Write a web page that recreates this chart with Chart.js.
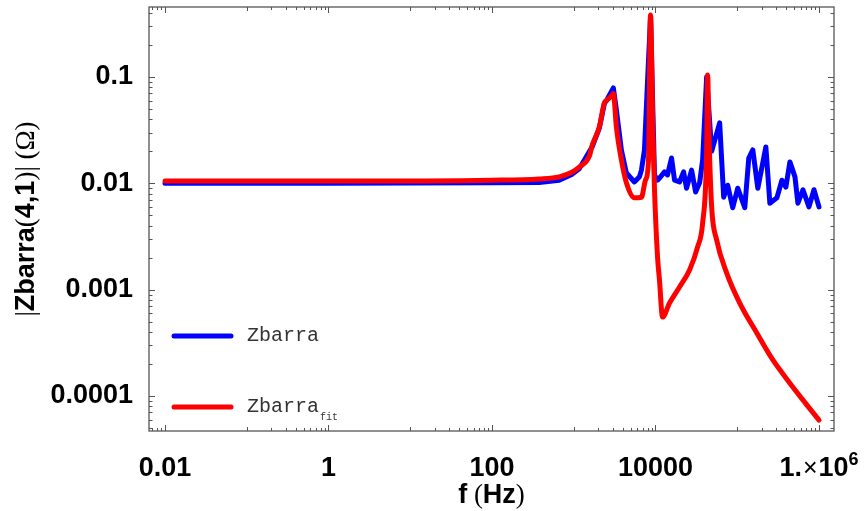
<!DOCTYPE html>
<html>
<head>
<meta charset="utf-8">
<script src="https://cdn.jsdelivr.net/npm/chart.js@4"></script>
<style>
  html, body { margin: 0; padding: 0; background: #fff; }
  #wrap { width: 868px; height: 511px; }
</style>
</head>
<body>
<div id="wrap"><canvas id="c" width="868" height="511"></canvas></div>
<script>
// Measured impedance magnitude |Zbarra(4,1)| versus frequency
const freqMeasured = [0.01, 1, 100, 377, 664, 959, 1167, 1687, 2055, 2366, 2577, 3053, 3322, 3826, 4406,
  5524, 6364, 6730, 7328, 7977, 8689, 9724, 10590, 11200, 12890, 14030, 15710, 17100, 19690, 22070,
  23990, 27650, 30960, 34660, 37730, 42230, 48640, 60950, 68230, 76400, 88050, 101400, 123600, 138400,
  155000, 178500, 223900, 250600, 305500, 351800, 393800, 440600, 508100, 552300, 636400, 753500, 868200, 1e6];
const zMeasured = [0.0100, 0.0100, 0.0101, 0.0102, 0.0107, 0.0122, 0.0137, 0.0222, 0.0330, 0.0560, 0.0620,
  0.0788, 0.0490, 0.0206, 0.0125, 0.0103, 0.0115, 0.0133, 0.0206, 0.088, 0.366, 0.0120, 0.0107, 0.0112,
  0.0128, 0.0120, 0.0173, 0.0107, 0.0103, 0.0128, 0.0090, 0.0133, 0.0083, 0.0101, 0.0166, 0.100, 0.020,
  0.037, 0.0074, 0.0096, 0.0059, 0.0090, 0.0059, 0.0173, 0.0206, 0.0090, 0.0220, 0.0065, 0.0073, 0.0107,
  0.0092, 0.0159, 0.0115, 0.0065, 0.0087, 0.0060, 0.0087, 0.0060];

// Fitted model
const freqFit = [0.01, 1, 100, 377, 664, 959, 1167, 1549, 1687, 2055, 2366, 2577, 2967, 3053, 3322, 3826,
  4406, 5524, 6730, 7535, 8200, 8689, 9300, 9724, 10590, 11200, 12190, 14850, 19690, 26120, 32750, 37730,
  42230, 43450, 45000, 48640, 55990, 74300, 107300, 173500, 272900, 440600, 712900, 1e6];
const zFit = [0.0105, 0.0105, 0.0107, 0.0110, 0.0115, 0.0128, 0.0142, 0.0180, 0.0229, 0.0339, 0.0569,
  0.0610, 0.0680, 0.0700, 0.0339, 0.0166, 0.0101, 0.0073, 0.0074, 0.0107, 0.016, 0.383, 0.030, 0.0087,
  0.00204, 0.00122, 0.000552, 0.000748, 0.00106, 0.00153, 0.00252, 0.00423, 0.0200, 0.1045, 0.030, 0.0060,
  0.00293, 0.00143, 0.000748, 0.000391, 0.000218, 0.000132, 0.0000821, 0.0000593];

const xTickValues = [0.01, 1, 100, 10000, 1e6];
const xTickLabels = ['0.01', '1', '100', '10000', '1.×10^6'];
const yTickValues = [0.0001, 0.001, 0.01, 0.1];
const yTickLabels = ['0.0001', '0.001', '0.01', '0.1'];

const seriesNames = ['Zbarra', 'Zbarra'];
const seriesSubscripts = ['', 'fit'];
const seriesColors = ['#0000ff', '#ff0000'];

const BOLD = 'bold 27px "Liberation Sans", Arial, sans-serif';
const SERIF = '27px "Liberation Serif", "Times New Roman", serif';

function toPoints(xs, ys) { return xs.map((x, i) => ({ x: x, y: ys[i] })); }

// Draws a run of differently styled text pieces starting at (x, y)
function drawRuns(ctx, runs, x, y) {
  let cx = x;
  for (const r of runs) {
    ctx.font = r.font;
    ctx.fillText(r.text, cx, y + (r.dy || 0));
    cx += ctx.measureText(r.text).width + (r.gap || 0);
  }
  return cx;
}
function runsWidth(ctx, runs) {
  let w = 0;
  for (const r of runs) { ctx.font = r.font; w += ctx.measureText(r.text).width + (r.gap || 0); }
  return w;
}

const framePlugin = {
  id: 'frameTicks',
  beforeDatasetsDraw(chart) {
    const { ctx, chartArea: a, scales } = chart;
    const xs = scales.x, ys = scales.y;
    ctx.save();
    ctx.strokeStyle = '#555';
    ctx.lineWidth = 1;
    ctx.beginPath();
    // x ticks: major every other decade, minor k*10^n in the decades between
    for (let n = -3; n <= 7; n++) {
      for (let k = 1; k <= 9; k++) {
        const v = k * Math.pow(10, n);
        if (v < xs.min || v > xs.max) continue;
        const even = (n % 2 === 0);
        let len;
        if (even) { if (k !== 1) continue; len = 6; }
        else len = (k === 1) ? 4 : 3;
        const px = Math.round(xs.getPixelForValue(v)) + 0.5;
        ctx.moveTo(px, a.bottom); ctx.lineTo(px, a.bottom - len);
        ctx.moveTo(px, a.top); ctx.lineTo(px, a.top + len);
      }
    }
    // y ticks: every decade with minors 2..9
    for (let n = -6; n <= 1; n++) {
      for (let k = 1; k <= 9; k++) {
        const v = k * Math.pow(10, n);
        if (v < ys.min || v > ys.max) continue;
        const len = (k === 1) ? 6 : 3.5;
        const py = Math.round(ys.getPixelForValue(v)) + 0.5;
        ctx.moveTo(a.left, py); ctx.lineTo(a.left + len, py);
        ctx.moveTo(a.right, py); ctx.lineTo(a.right - len, py);
      }
    }
    ctx.stroke();
    ctx.lineWidth = 1.3;
    ctx.strokeRect(a.left, a.top, a.right - a.left, a.bottom - a.top);
    ctx.restore();
  },
  afterDraw(chart) {
    const { ctx, chartArea: a, scales } = chart;
    const xs = scales.x;
    ctx.save();
    ctx.fillStyle = '#000';
    ctx.textBaseline = 'alphabetic';

    // x tick labels
    const base = 476;
    xTickValues.forEach((v, i) => {
      const px = xs.getPixelForValue(v);
      const lbl = xTickLabels[i];
      let runs;
      if (lbl.indexOf('^') >= 0) {
        const [mant, exp] = lbl.split('^');
        const parts = mant.split('×');
        runs = [
          { text: parts[0], font: BOLD, gap: 1 },
          { text: '×', font: '25px "Liberation Sans", Arial, sans-serif', gap: 1 },
          { text: parts[1], font: BOLD },
          { text: exp, font: 'bold 18px "Liberation Sans", Arial, sans-serif', dy: -11 }
        ];
      } else {
        runs = [{ text: lbl, font: BOLD }];
      }
      ctx.textAlign = 'left';
      const w = runsWidth(ctx, runs);
      drawRuns(ctx, runs, px - w / 2, base);
    });

    // x axis title
    const xt = [
      { text: 'f', font: BOLD },
      { text: ' (', font: SERIF },
      { text: 'Hz', font: BOLD },
      { text: ')', font: SERIF }
    ];
    const xw = runsWidth(ctx, xt);
    drawRuns(ctx, xt, (a.left + a.right) / 2 - xw / 2, 503);

    // y axis title, rotated
    const yt = [
      { text: '|', font: SERIF },
      { text: 'Zbarra', font: BOLD },
      { text: '(', font: SERIF },
      { text: '4,1', font: BOLD },
      { text: ')', font: SERIF },
      { text: '| (Ω)', font: SERIF }
    ];
    const yw = runsWidth(ctx, yt);
    ctx.translate(34, (a.top + a.bottom) / 2);
    ctx.rotate(-Math.PI / 2);
    drawRuns(ctx, yt, -yw / 2, 0);
    ctx.restore();

    // legend inside the plot area
    ctx.save();
    const rowsY = [336, 407];
    chart.data.datasets.forEach((ds, i) => {
      const y = rowsY[i];
      ctx.strokeStyle = ds.borderColor;
      ctx.lineWidth = 5;
      ctx.lineCap = 'round';
      ctx.beginPath();
      ctx.moveTo(174, y); ctx.lineTo(231, y);
      ctx.stroke();
      ctx.fillStyle = '#333';
      ctx.textBaseline = 'middle';
      ctx.font = '20px "Liberation Mono", "Courier New", monospace';
      ctx.fillText(seriesNames[i], 247, y);
      const w = ctx.measureText(seriesNames[i]).width;
      if (seriesSubscripts[i]) {
        ctx.font = '10px "Liberation Mono", "Courier New", monospace';
        ctx.fillText(seriesSubscripts[i], 247 + w + 1, y + 10);
      }
    });
    ctx.restore();
  }
};

new Chart(document.getElementById('c'), {
  type: 'line',
  data: {
    datasets: [
      {
        label: 'Zbarra',
        data: toPoints(freqMeasured, zMeasured),
        borderColor: seriesColors[0],
        borderWidth: 5,
        pointRadius: 0,
        tension: 0,
        borderJoinStyle: 'round',
        borderCapStyle: 'round',
        order: 1
      },
      {
        label: 'Zbarra_fit',
        data: toPoints(freqFit, zFit),
        borderColor: seriesColors[1],
        borderWidth: 5,
        pointRadius: 0,
        cubicInterpolationMode: 'monotone',
        borderJoinStyle: 'round',
        borderCapStyle: 'round',
        order: 0
      }
    ]
  },
  options: {
    responsive: false,
    animation: false,
    events: [],
    layout: { padding: { top: 7, right: 34, left: 0, bottom: 0 } },
    plugins: { legend: { display: false }, tooltip: { enabled: false } },
    scales: {
      x: {
        type: 'logarithmic',
        min: 0.006372,
        max: 1.526e6,
        grid: { display: false },
        border: { display: false },
        ticks: { display: false },
        afterFit(s) { s.height = 80; s.paddingLeft = 0; s.paddingRight = 0; }
      },
      y: {
        type: 'logarithmic',
        min: 4.685e-5,
        max: 0.4552,
        grid: { display: false, drawTicks: false },
        border: { display: false },
        afterBuildTicks(s) { s.ticks = yTickValues.map(v => ({ value: v })); },
        ticks: {
          autoSkip: false,
          padding: 16,
          color: '#000',
          font: { family: '"Liberation Sans", Arial, sans-serif', size: 27, weight: 'bold' },
          callback(v) {
            const i = yTickValues.findIndex(t => Math.abs(t - v) / t < 1e-6);
            return i >= 0 ? yTickLabels[i] : '';
          }
        },
        afterFit(s) { s.width = 149; s.paddingTop = 0; s.paddingBottom = 0; }
      }
    }
  },
  plugins: [framePlugin]
});
</script>
</body>
</html>
